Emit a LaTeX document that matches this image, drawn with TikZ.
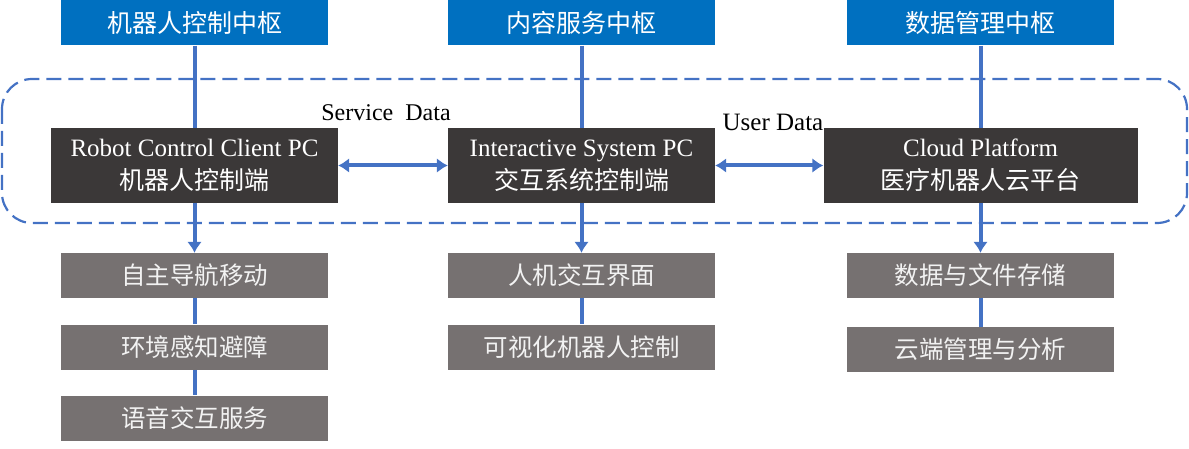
\documentclass[tikz,border=0pt]{standalone}
\usepackage{fontspec}
\setmainfont{Liberation Serif}
\newfontfamily\cjk{Noto Sans CJK SC}
\usetikzlibrary{arrows.meta}

\definecolor{hubblue}{HTML}{0070C0}
\definecolor{pcdark}{HTML}{3B3838}
\definecolor{funcgrey}{HTML}{767171}
\definecolor{linkblue}{HTML}{4472C4}

\begin{document}
\begin{tikzpicture}[x=1pt,y=-1pt,
    hubbox/.style={fill=hubblue, text=white, inner sep=0pt, minimum width=267pt, minimum height=45pt, font=\cjk\fontsize{25}{30}\selectfont},
    pcbox/.style={fill=pcdark, text=white, inner sep=0pt, minimum height=75pt, align=center, font=\fontsize{25}{33}\selectfont},
    funcbox/.style={fill=funcgrey, text=white!95!black, inner sep=0pt, minimum width=267pt, minimum height=45pt, font=\cjk\fontsize{24.5}{28}\selectfont},
    link/.style={draw=linkblue, line width=4pt},
    >={Latex[length=11pt,width=15pt]}]

    \useasboundingbox (0,0) rectangle (1189,449);

    % Frame
    \draw[linkblue, line width=2.2pt, dash pattern=on 15pt off 7pt, rounded corners=30pt] (2,79) rectangle (1187,223);

    % Hubs
    \node[hubbox] (hubL) at (194.5, 23) {机器人控制中枢};
    \node[hubbox] (hubM) at (581.5, 23) {内容服务中枢};
    \node[hubbox] (hubR) at (980.5, 23) {数据管理中枢};

    % Clients
    \node[pcbox, minimum width=287pt] (pcL) at (194.5, 165.5) {Robot Control Client PC\\{\cjk 机器人控制端}};
    \node[pcbox, minimum width=267pt] (pcM) at (581.5, 165.5) {Interactive System PC\\{\cjk 交互系统控制端}};
    \node[pcbox, minimum width=314pt] (pcR) at (980.5, 165.5) {Cloud Platform\\{\cjk 医疗机器人云平台}};

    % Functions
    \node[funcbox] (fL1) at (194.5, 275.5) {自主导航移动};
    \node[funcbox] (fL2) at (194.5, 347) {环境感知避障};
    \node[funcbox] (fL3) at (194.5, 418) {语音交互服务};
    \node[funcbox] (fM1) at (581.5, 275.5) {人机交互界面};
    \node[funcbox] (fM2) at (581.5, 347) {可视化机器人控制};
    \node[funcbox] (fR1) at (980.5, 275.5) {数据与文件存储};
    \node[funcbox] (fR2) at (980.5, 349.5) {云端管理与分析};

    % Links
    \draw[link] (hubL) -- (pcL);
    \draw[link] (hubM) -- (pcM);
    \draw[link] (hubR) -- (pcR);
    \draw[link,->] (pcL) -- (fL1);
    \draw[link,->] (pcM) -- (fM1);
    \draw[link,->] (pcR) -- (fR1);
    \draw[link] (fL1) -- (fL2);
    \draw[link] (fL2) -- (fL3);
    \draw[link] (fM1) -- (fM2);
    \draw[link] (fR1) -- (fR2);

    % Data exchange
    \draw[link,<->] (pcL) -- (pcM);
    \draw[link,<->] (pcM) -- (pcR);
    \node[font=\fontsize{24}{28}\selectfont] (svc) at (386, 113) {Service\ \ Data};
    \node[font=\fontsize{25}{28}\selectfont] (usr) at (773, 122) {User Data};
\end{tikzpicture}
\end{document}
